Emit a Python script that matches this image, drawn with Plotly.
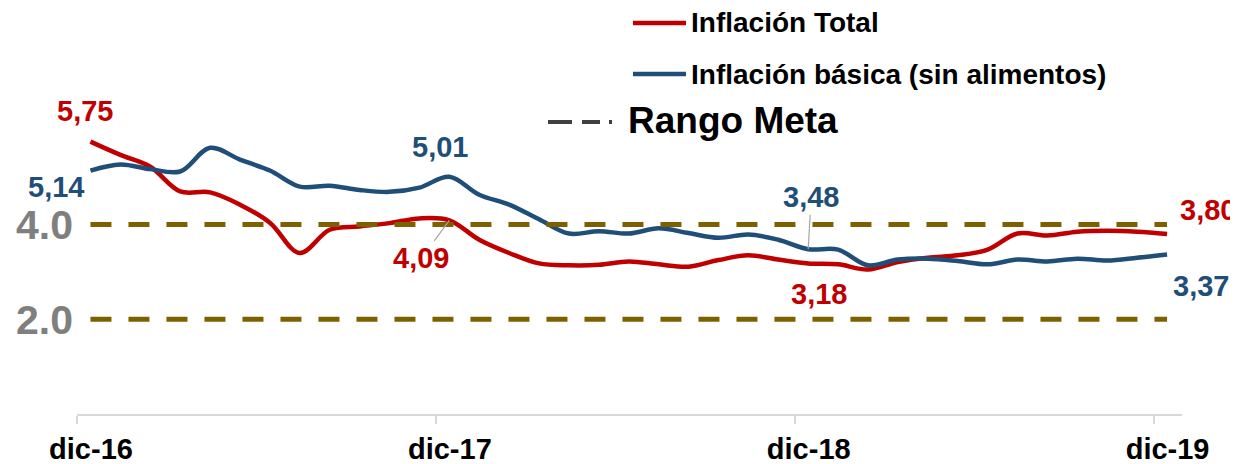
import plotly.graph_objects as go

# ---------------- data ----------------
meses = ["dic-16", "ene-17", "feb-17", "mar-17", "abr-17", "may-17", "jun-17", "jul-17",
         "ago-17", "sep-17", "oct-17", "nov-17", "dic-17", "ene-18", "feb-18", "mar-18",
         "abr-18", "may-18", "jun-18", "jul-18", "ago-18", "sep-18", "oct-18", "nov-18",
         "dic-18", "ene-19", "feb-19", "mar-19", "abr-19", "may-19", "jun-19", "jul-19",
         "ago-19", "sep-19", "oct-19", "nov-19", "dic-19"]

inflacion_total = [5.75, 5.47, 5.22, 4.70, 4.68, 4.42, 4.04, 3.40, 3.89, 3.96, 4.03, 4.13,
                   4.09, 3.68, 3.40, 3.18, 3.14, 3.15, 3.22, 3.16, 3.11, 3.25, 3.35, 3.26,
                   3.18, 3.16, 3.05, 3.21, 3.30, 3.35, 3.47, 3.81, 3.77, 3.85, 3.87, 3.85,
                   3.80]

inflacion_basica = [5.14, 5.27, 5.17, 5.12, 5.62, 5.37, 5.14, 4.80, 4.82, 4.73, 4.69, 4.78,
                    5.01, 4.63, 4.42, 4.11, 3.81, 3.86, 3.81, 3.92, 3.82, 3.72, 3.79, 3.68,
                    3.48, 3.47, 3.14, 3.26, 3.28, 3.23, 3.16, 3.26, 3.22, 3.28, 3.24, 3.30,
                    3.37]

meta_superior = 4.0
meta_inferior = 2.0

tick_meses = ["dic-16", "dic-17", "dic-18", "dic-19"]
tick_y = [2.0, 4.0]
tick_y_text = ["2.0", "4.0"]

# ---------------- styling ----------------
ROJO = "#C00000"
AZUL = "#1F4E79"
OLIVA = "#7F6000"
FONT = "Arial, Liberation Sans, sans-serif"

n = len(meses)
xs = list(range(n))
tick_pos = [meses.index(m) - 0.45 for m in tick_meses]

fig = go.Figure()

fig.add_trace(go.Scatter(x=xs, y=inflacion_total, mode="lines", name="Inflación Total",
                         line=dict(color=ROJO, width=4.5, shape="spline", smoothing=1.0),
                         hoverinfo="skip"))
fig.add_trace(go.Scatter(x=xs, y=inflacion_basica, mode="lines", name="Inflación básica (sin alimentos)",
                         line=dict(color=AZUL, width=4.5, shape="spline", smoothing=1.0),
                         hoverinfo="skip"))
for v in (meta_superior, meta_inferior):
    fig.add_trace(go.Scatter(x=xs, y=[v] * n, mode="lines", name="Rango Meta",
                             line=dict(color=OLIVA, width=5, dash="21px,17px"),
                             hoverinfo="skip"))

# ---------------- data labels ----------------
def lab(i, series, color, xs_, ys_, arrow=None):
    d = dict(x=i, y=series[i], xref="x", yref="y",
             text="<b>" + f"{series[i]:.2f}".replace(".", ",") + "</b>",
             font=dict(family=FONT, size=29, color=color))
    if arrow is None:
        d.update(showarrow=False, xshift=xs_, yshift=ys_)
    else:
        d.update(showarrow=True, arrowhead=0, arrowwidth=1.2, arrowcolor="#A6A6A6",
                 ax=arrow[0], ay=arrow[1], standoff=0)
    return d

annotations = [
    lab(0, inflacion_total, ROJO, -5, 31),
    lab(0, inflacion_basica, AZUL, -34, -16),
    lab(12, inflacion_basica, AZUL, -9, 30),
    lab(12, inflacion_total, ROJO, 0, 0, arrow=(-28, 38)),
    lab(24, inflacion_basica, AZUL, 0, 0, arrow=(3, -52)),
    lab(24, inflacion_total, ROJO, 11, -31),
    lab(36, inflacion_total, ROJO, 41, 24),
    lab(36, inflacion_basica, AZUL, 34, -32),
]

# ---------------- layout geometry ----------------
# the page body adds an 8px offset, so the figure is laid out 8px smaller
OFF = 8
W, H = 1238 - OFF, 464 - OFF
L = 77 - OFF          # plot left edge at page x=77
T = 10 - OFF          # plot top at page y=10
B = H - (414 - OFF)   # x axis at page y=414
R = W - (1182 - OFF)  # plot right edge at page x=1182
pw, ph = W - L - R, H - T - B
px = lambda x: (x - OFF - L) / pw
py = lambda y: (H - B - (y - OFF)) / ph

shapes = [
    dict(type="line", xref="paper", yref="paper", x0=px(633), x1=px(686), y0=py(23), y1=py(23),
         line=dict(color=ROJO, width=4.5)),
    dict(type="line", xref="paper", yref="paper", x0=px(633), x1=px(686), y0=py(74), y1=py(74),
         line=dict(color=AZUL, width=4.5)),
    dict(type="line", xref="paper", yref="paper", x0=px(548), x1=px(612), y0=py(122), y1=py(122),
         line=dict(color="#404040", width=4, dash="24px,10px,18px,9px,3px,30px")),
]
annotations += [
    dict(xref="paper", yref="paper", x=px(689), y=py(22), xanchor="left", yanchor="middle",
         text="<b>Inflación Total</b>", showarrow=False,
         font=dict(family=FONT, size=28, color="black")),
    dict(xref="paper", yref="paper", x=px(689), y=py(74), xanchor="left", yanchor="middle",
         text="<b>Inflación básica (sin alimentos)</b>", showarrow=False,
         font=dict(family=FONT, size=28, color="black")),
    dict(xref="paper", yref="paper", x=px(626), y=py(120), xanchor="left", yanchor="middle",
         text="<b>Rango Meta</b>", showarrow=False,
         font=dict(family=FONT, size=37, color="black")),
]

fig.update_layout(
    width=W, height=H,
    margin=dict(l=L, r=R, t=T, b=B, autoexpand=False),
    plot_bgcolor="white", paper_bgcolor="white",
    showlegend=False,
    annotations=annotations,
    shapes=shapes,
    xaxis=dict(range=[-0.45, 36.5], tickvals=tick_pos, automargin=False,
               ticktext=["<b>" + t + "</b>" for t in tick_meses],
               tickfont=dict(family=FONT, size=29, color="black"),
               ticklabelshift=14,
               showline=True, linecolor="#D9D9D9", linewidth=2,
               ticks="outside", ticklen=8, tickcolor="#D9D9D9", tickwidth=1.5,
               showgrid=False, zeroline=False),
    yaxis=dict(range=[0, 8.53], tickvals=tick_y, automargin=False,
               ticktext=["<b>" + t + "</b>" for t in tick_y_text],
               tickfont=dict(family=FONT, size=41, color="#7F7F7F"),
               ticklabelstandoff=3,
               showline=False, showgrid=False, zeroline=False, ticks=""),
)

fig.write_html("out.html")
